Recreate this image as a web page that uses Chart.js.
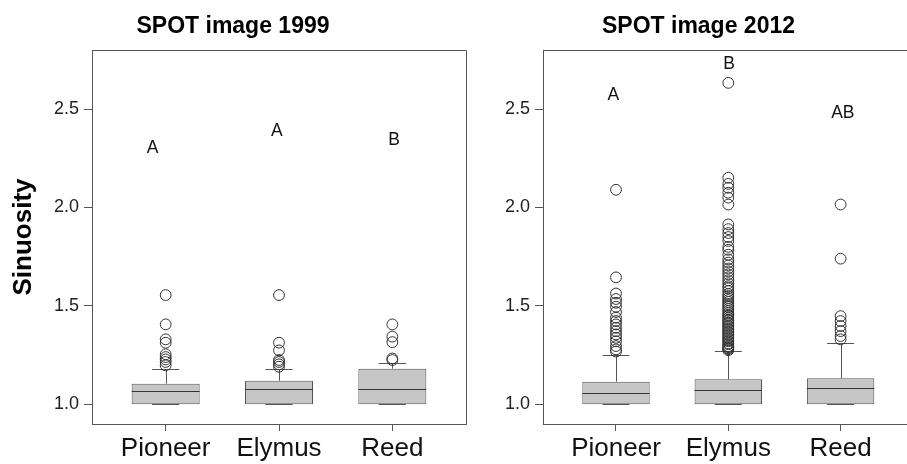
<!DOCTYPE html>
<html>
<head>
<meta charset="utf-8">
<script src="https://cdn.jsdelivr.net/npm/chart.js@4.4.1/dist/chart.umd.min.js"></script>
<style>
  html, body { margin: 0; padding: 0; background: #fff; overflow: hidden; }
  #wrap { position: relative; width: 907px; height: 464px; overflow: hidden; }
  #c1 { position: absolute; left: 0; top: 0; }
  #c2 { position: absolute; left: 480px; top: 0; }
</style>
</head>
<body>
<div id="wrap">
  <canvas id="c1" width="480" height="464"></canvas>
  <canvas id="c2" width="440" height="464"></canvas>
</div>
<script>
// Categories and axis ticks
const categories = ['Pioneer', 'Elymus', 'Reed'];
const catPos = [1, 2, 3];
const yTicks = [1.0, 1.5, 2.0, 2.5];

// SPOT image 1999 – box statistics
const q1_1999 = [1.0, 1.0, 1.0];
const median_1999 = [1.068, 1.08, 1.08];
const q3_1999 = [1.105, 1.12, 1.181];
const whiskerLow_1999 = [1.0, 1.0, 1.0];
const whiskerHigh_1999 = [1.181, 1.181, 1.212];
const outPioneer_1999 = [1.555, 1.406, 1.33, 1.313, 1.254, 1.24, 1.228, 1.215, 1.198];
const outElymus_1999 = [1.555, 1.313, 1.274, 1.225, 1.215, 1.203, 1.191];
const outReed_1999 = [1.406, 1.344, 1.316, 1.233, 1.225];
const letters_1999 = ['A', 'A', 'B'];
const letterX_1999 = [0.885, 1.98, 3.015];
const letterY_1999 = [2.30, 2.39, 2.34];

// SPOT image 2012 – box statistics
const q1_2012 = [1.0, 1.0, 1.0];
const median_2012 = [1.059, 1.071, 1.081];
const q3_2012 = [1.115, 1.127, 1.132];
const whiskerLow_2012 = [1.0, 1.0, 1.0];
const whiskerHigh_2012 = [1.249, 1.271, 1.313];
const outPioneer_2012 = [2.09, 1.645, 1.563, 1.535, 1.516, 1.496, 1.469, 1.44, 1.423, 1.406,
  1.389, 1.372, 1.355, 1.338, 1.32, 1.296, 1.279, 1.268];
const outElymus_2012 = [2.633, 2.151, 2.12, 2.10, 2.075, 2.05, 2.015, 1.914, 1.89, 1.87, 1.85,
  1.83, 1.80, 1.785, 1.76, 1.736, 1.72, 1.705, 1.69, 1.675, 1.66, 1.645, 1.63, 1.615, 1.60,
  1.59, 1.575, 1.56, 1.55, 1.54, 1.53, 1.52, 1.51, 1.50, 1.495, 1.485, 1.475, 1.465, 1.455,
  1.45, 1.44, 1.43, 1.425, 1.415, 1.41, 1.40, 1.395, 1.385, 1.38, 1.37, 1.365, 1.355, 1.35,
  1.34, 1.335, 1.325, 1.32, 1.31, 1.305, 1.295, 1.29, 1.285, 1.28, 1.275];
const outReed_2012 = [2.015, 1.74, 1.448, 1.423, 1.398, 1.372, 1.347, 1.33];
const letters_2012 = ['A', 'B', 'AB'];
const letterX_2012 = [0.977, 2.006, 3.02];
const letterY_2012 = [2.569, 2.726, 2.48];

const FONT = '"Liberation Sans", Arial, Helvetica, sans-serif';
const LINE = '#555555';
const BOX_HALF = 0.3;
const CAP_HALF = 0.12;

function panel(canvasId, p) {
  const outlierPoints = [];
  p.outliers.forEach((list, i) => list.forEach(v => outlierPoints.push({ x: catPos[i], y: v })));

  const boxParts = {
    id: 'boxParts',
    beforeDatasetsDraw(chart) {
      const { ctx, scales: { x, y } } = chart;
      ctx.save();
      ctx.strokeStyle = LINE;
      ctx.lineWidth = 1;
      catPos.forEach((c, i) => {
        const cx = Math.round(x.getPixelForValue(c)) + 0.5;
        const l = x.getPixelForValue(c - CAP_HALF), r = x.getPixelForValue(c + CAP_HALF);
        const yHi = Math.round(y.getPixelForValue(p.hi[i])) + 0.5;
        const yQ3 = y.getPixelForValue(p.q3[i]);
        const yLo = Math.round(y.getPixelForValue(p.lo[i])) + 0.5;
        const yQ1 = y.getPixelForValue(p.q1[i]);
        ctx.beginPath();
        ctx.moveTo(cx, yQ3); ctx.lineTo(cx, yHi);
        ctx.moveTo(l, yHi); ctx.lineTo(r, yHi);
        ctx.moveTo(cx, yQ1); ctx.lineTo(cx, yLo);
        ctx.moveTo(l, yLo); ctx.lineTo(r, yLo);
        ctx.stroke();
      });
      ctx.restore();
    },
    afterDatasetsDraw(chart) {
      const { ctx, scales: { x, y } } = chart;
      ctx.save();
      ctx.strokeStyle = '#333333';
      ctx.lineWidth = 1;
      catPos.forEach((c, i) => {
        const ym = Math.round(y.getPixelForValue(p.median[i])) + 0.5;
        ctx.beginPath();
        ctx.moveTo(x.getPixelForValue(c - BOX_HALF), ym);
        ctx.lineTo(x.getPixelForValue(c + BOX_HALF), ym);
        ctx.stroke();
      });
      ctx.fillStyle = '#111111';
      ctx.font = '17.5px ' + FONT;
      ctx.textAlign = 'center';
      ctx.textBaseline = 'middle';
      p.letters.forEach((t, i) => {
        ctx.fillText(t, x.getPixelForValue(p.letterX[i]), y.getPixelForValue(p.letterY[i]));
      });
      ctx.restore();
    },
    afterDraw(chart) {
      const { ctx, chartArea: a } = chart;
      ctx.save();
      ctx.strokeStyle = LINE;
      ctx.lineWidth = 1;
      ctx.beginPath();
      ctx.moveTo(a.left, Math.round(a.top) + 0.5);
      ctx.lineTo(Math.round(a.right) + 0.5, Math.round(a.top) + 0.5);
      ctx.lineTo(Math.round(a.right) + 0.5, a.bottom);
      ctx.stroke();
      ctx.restore();
    }
  };

  return new Chart(document.getElementById(canvasId), {
    type: 'scatter',
    data: {
      datasets: [
        {
          type: 'scatter',
          data: outlierPoints,
          pointRadius: 5.4,
          pointBackgroundColor: 'rgba(255,255,255,0)',
          pointBorderColor: '#333333',
          pointBorderWidth: 1,
          order: 1
        },
        {
          type: 'bar',
          data: catPos.map((c, i) => ({ x: c, y: [p.q1[i], p.q3[i]] })),
          backgroundColor: '#c6c6c6',
          borderColor: LINE,
          borderWidth: 1,
          borderSkipped: false,
          barPercentage: 0.6,
          categoryPercentage: 1.0,
          order: 2
        }
      ]
    },
    options: {
      responsive: false,
      animation: false,
      devicePixelRatio: 1,
      layout: { padding: { left: 0, right: p.padRight, top: 0, bottom: 0 } },
      plugins: {
        legend: { display: false },
        tooltip: { enabled: false },
        title: {
          display: true,
          text: p.title,
          color: '#000000',
          font: { family: FONT, size: 23, weight: 'bold', lineHeight: 1.2 },
          padding: { top: 13, bottom: 9.4 }
        }
      },
      scales: {
        x: {
          type: 'linear',
          min: 0.35,
          max: 3.65,
          offset: false,
          afterBuildTicks: s => { s.ticks = catPos.map(v => ({ value: v })); },
          afterFit: s => { s.height = 40; },
          ticks: {
            callback: v => categories[catPos.indexOf(v)],
            color: '#111111',
            font: { family: FONT, size: 26 },
            padding: 2,
            maxRotation: 0,
            autoSkip: false
          },
          grid: { display: true, drawOnChartArea: false, drawTicks: true, tickLength: 7, color: LINE, offset: false },
          border: { display: true, color: LINE, width: 1 }
        },
        y: {
          type: 'linear',
          min: 0.9,
          max: 2.8,
          afterBuildTicks: s => { s.ticks = yTicks.map(v => ({ value: v })); },
          afterFit: s => { s.width = p.yWidth; },
          ticks: {
            callback: v => v.toFixed(1),
            color: '#222222',
            font: { family: FONT, size: 18 },
            padding: 5
          },
          grid: { display: true, drawOnChartArea: false, drawTicks: true, tickLength: 8, color: LINE },
          border: { display: true, color: LINE, width: 1 },
          title: {
            display: p.yTitle,
            text: 'Sinuosity',
            color: '#000000',
            font: { family: FONT, size: 26, weight: 'bold', lineHeight: 1.2 },
            padding: { top: 8, bottom: 0 }
          }
        }
      }
    },
    plugins: [boxParts]
  });
}

panel('c1', {
  title: 'SPOT image 1999',
  q1: q1_1999, median: median_1999, q3: q3_1999, lo: whiskerLow_1999, hi: whiskerHigh_1999,
  outliers: [outPioneer_1999, outElymus_1999, outReed_1999],
  letters: letters_1999, letterX: letterX_1999, letterY: letterY_1999,
  yTitle: true, yWidth: 92, padRight: 14
});

panel('c2', {
  title: 'SPOT image 2012',
  q1: q1_2012, median: median_2012, q3: q3_2012, lo: whiskerLow_2012, hi: whiskerHigh_2012,
  outliers: [outPioneer_2012, outElymus_2012, outReed_2012],
  letters: letters_2012, letterX: letterX_2012, letterY: letterY_2012,
  yTitle: false, yWidth: 63, padRight: 3
});
</script>
</body>
</html>
